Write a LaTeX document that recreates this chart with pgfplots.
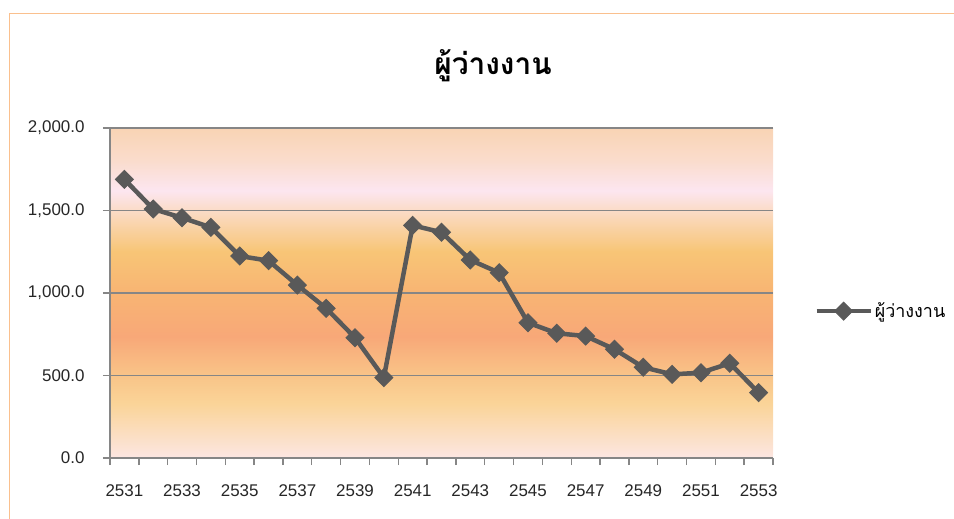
\documentclass[border=0pt]{standalone}
\usepackage{pgfplots}
\pgfplotsset{compat=1.18}
\usepackage{fontspec}
\setmainfont{Liberation Sans}
\newfontfamily\thaifont[Script=Thai]{Loma}

\definecolor{lineclr}{RGB}{89,89,89}
\definecolor{gridclr}{RGB}{134,134,134}
\definecolor{bordclr}{RGB}{250,192,142}
\definecolor{s0}{RGB}{252,230,226}
\definecolor{s1}{RGB}{250,212,152}
\definecolor{s2}{RGB}{249,196,136}
\definecolor{s3}{RGB}{248,168,120}
\definecolor{s4}{RGB}{248,180,115}
\definecolor{s5}{RGB}{248,197,118}
\definecolor{s6}{RGB}{250,215,182}
\definecolor{s7}{RGB}{252,230,240}
\definecolor{s8}{RGB}{250,220,205}
\definecolor{s9}{RGB}{249,212,180}
\pgfdeclareverticalshading{unemp}{100bp}{color(0bp)=(s0); color(25bp)=(s0); color(33.25bp)=(s1); color(37.5bp)=(s2); color(43.4bp)=(s3); color(50bp)=(s4); color(56.25bp)=(s5); color(61.25bp)=(s6); color(65.5bp)=(s7); color(70bp)=(s8); color(75bp)=(s9); color(100bp)=(s9)}

\pgfplotstableread{
x y
0 1689
1 1509
2 1456
3 1398
4 1224
5 1196
6 1048
7 907
8 729
9 487
10 1410
11 1368
12 1200
13 1123
14 820
15 756
16 739
17 659
18 550
19 507
20 517
21 574
22 396
}\datatable

\begin{document}
\begin{tikzpicture}[x=1bp,y=1bp]
\useasboundingbox (0,0) rectangle (954,-519);
\draw[bordclr, line width=1.5bp] (9.5,-519) -- (9.5,-13.5) -- (954,-13.5);
\node[font=\thaifont\bfseries\fontsize{30}{33}\selectfont] at (493,-66) {ผู้ว่างงาน};
\begin{axis}[
  at={(110bp,-458bp)}, anchor=south west,
  scale only axis, width=663bp, height=330bp,
  xmin=-0.5, xmax=22.5, ymin=0, ymax=2000,
  axis x line*=bottom, axis y line*=left,
  axis line style={-, draw=gridclr, line width=1.4bp},
  axis background/.style={shading=unemp},
  ytick={0,500,...,2000},
  ymajorgrids, grid style={gridclr, line width=1.4bp},
  xtick={-0.5,0.5,...,22.5}, xticklabels={},
  extra x ticks={0,2,...,22},
  extra x tick labels={2531,2533,2535,2537,2539,2541,2543,2545,2547,2549,2551,2553},
  extra x tick style={major tick length=0pt, xmajorgrids=false,
     xticklabel style={yshift=-23bp}},
  tick align=outside, major tick length=7bp,
  tick style={gridclr, line width=1.4bp},
  ticklabel style={font=\fontsize{17}{19}\selectfont, text=black!85},
  yticklabel style={xshift=-15bp},
  /pgf/number format/assume math mode=true,
  yticklabel={\pgfmathprintnumber[fixed, fixed zerofill, precision=1, 1000 sep={,}]{\tick}},
  clip=false,
  legend style={at={(1.062,0.445)}, anchor=west, draw=none, fill=none,
     font=\thaifont\fontsize{18}{20}\selectfont, inner sep=0pt,
     legend cell align=left},
  legend image code/.code={%
     \draw[mark repeat=2, mark phase=2] plot coordinates {(0bp,0bp) (27bp,0bp) (54bp,0bp)};},
]
\addplot[lineclr, line width=4.5bp, mark=square*,
  mark options={solid, fill=lineclr, line width=1bp, rotate=45}, mark size=6.3bp]
  table[x=x, y=y] {\datatable};
\addlegendentry{ผู้ว่างงาน}
\end{axis}
\end{tikzpicture}
\end{document}
